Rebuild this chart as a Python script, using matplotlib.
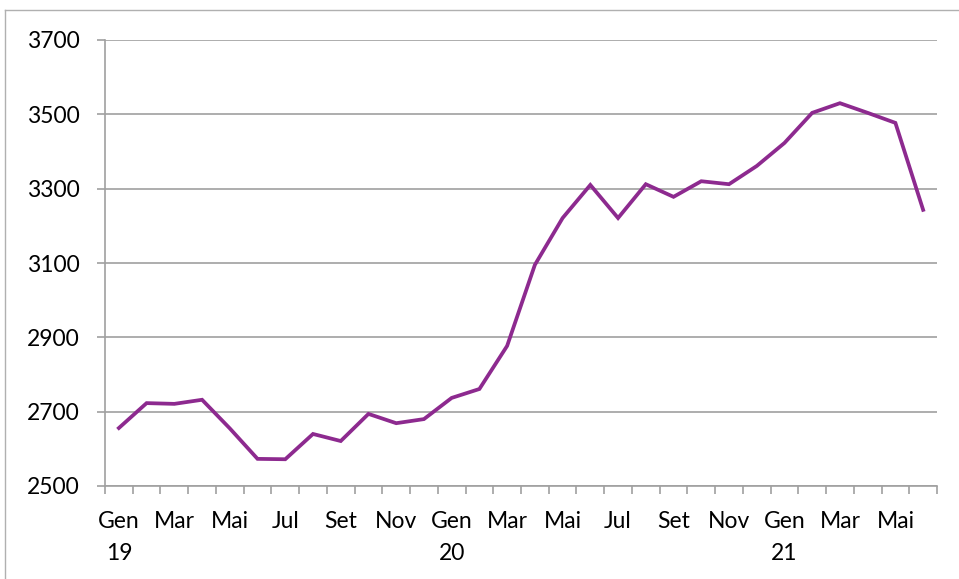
import matplotlib
matplotlib.use("Agg")
import matplotlib.pyplot as plt
from matplotlib.lines import Line2D

months = ["Gen", "Feb", "Mar", "Apr", "Mai", "Giu", "Lug", "Ago", "Set", "Ott", "Nov", "Dic"] * 2 + \
    ["Gen", "Feb", "Mar", "Apr", "Mai", "Giu"]
tick_names = ["Gen", "Mar", "Mai", "Jul", "Set", "Nov"]
years = ["19", "20", "21"]
values = [2656, 2723, 2721, 2732, 2655, 2573, 2572, 2640, 2621, 2694, 2669, 2680,
          2737, 2761, 2877, 3095, 3221, 3310, 3221, 3312, 3278, 3320, 3312, 3361,
          3423, 3504, 3530, 3504, 3477, 3243]

W, H = 959, 579
fig = plt.figure(figsize=(W / 100, H / 100), dpi=100)
ax = fig.add_axes([105 / W, 1 - 486 / H, (937 - 105) / W, (486 - 40) / H])

grey = "#a0a0a0"
x = list(range(len(values)))
ax.plot(x, values, color="#8d2a8f", linewidth=2.7, solid_joinstyle="miter", zorder=3)

ax.set_xlim(-0.5, len(values) - 0.5)
ax.set_ylim(2500, 3700)
ax.set_yticks(range(2500, 3701, 200))
ax.grid(axis="y", color=grey, linewidth=1.2)
ax.set_axisbelow(True)

# category boundary ticks, labels every two months
ax.set_xticks([i - 0.5 for i in range(len(values) + 1)])
ax.set_xticklabels([])
label_pos = list(range(0, len(values), 2))
labels = []
for i in label_pos:
    lab = tick_names[(i % 12) // 2]
    if i % 12 == 0:
        lab += "\n" + years[i // 12]
    labels.append(lab)
ax.set_xticks(label_pos, minor=True)
ax.set_xticklabels(labels, minor=True, fontsize=16.5, family="Lato", linespacing=1.65, va="top")
ax.tick_params(axis="x", which="major", length=6, color=grey, width=1.2)
ax.tick_params(axis="x", which="minor", length=0, pad=18)
ax.tick_params(axis="y", length=6, color=grey, width=1.2, pad=12, labelsize=16.5)
for t in ax.get_yticklabels():
    t.set_family("Lato")

for side in ["top", "right"]:
    ax.spines[side].set_visible(False)
for side in ["left", "bottom"]:
    ax.spines[side].set_color(grey)
    ax.spines[side].set_linewidth(1.2)

# outer chart border
fig.add_artist(Line2D([5 / W, 1], [1 - 10 / H, 1 - 10 / H], color="#b0b0b0", linewidth=1))
fig.add_artist(Line2D([5 / W, 5 / W], [0, 1 - 10 / H], color="#b0b0b0", linewidth=1))

fig.savefig("out.png", dpi=100)
